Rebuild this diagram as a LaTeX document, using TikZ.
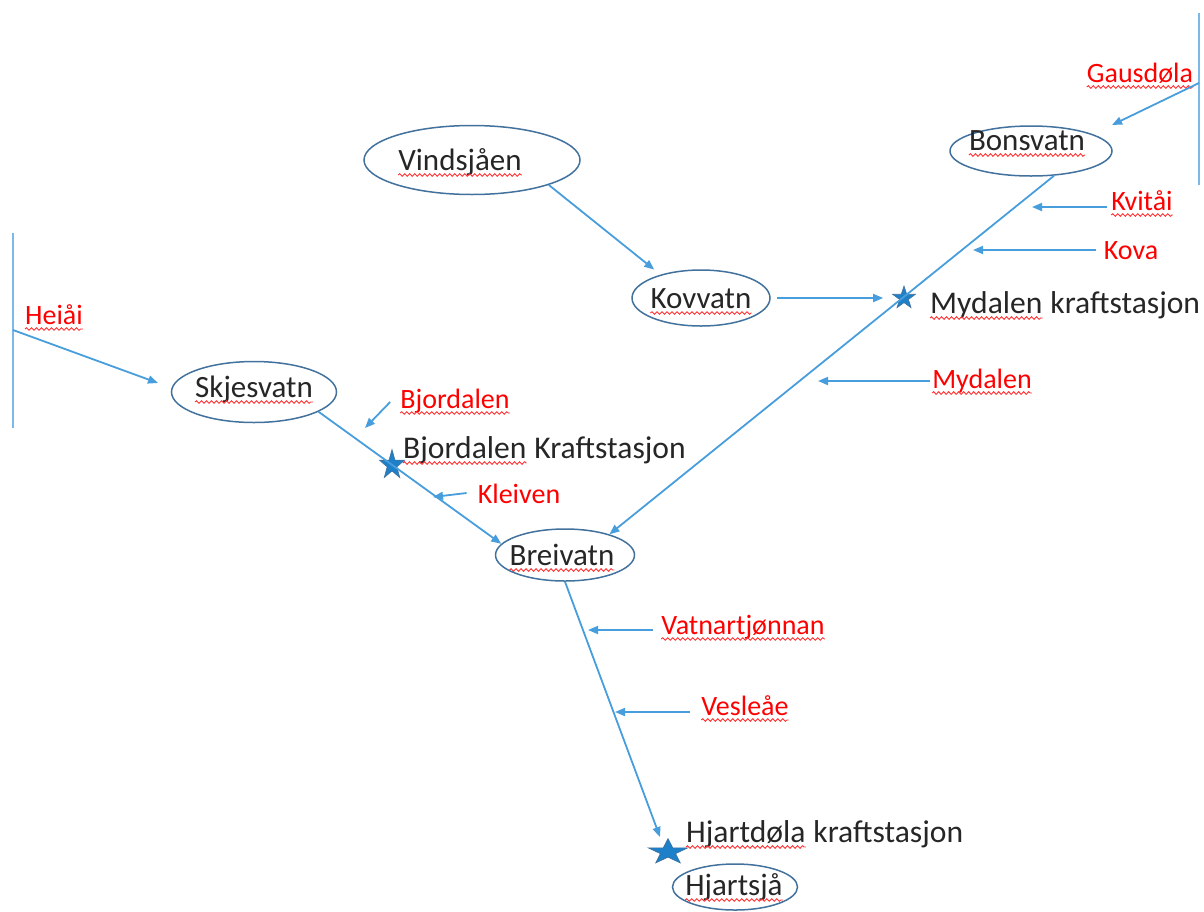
\documentclass[tikz,border=0pt]{standalone}
\usepackage{fontspec}
\setmainfont{Carlito}
\usetikzlibrary{arrows.meta,shapes.geometric,positioning,decorations.pathmorphing}

\definecolor{lakeline}{RGB}{65,113,156}
\definecolor{river}{RGB}{72,158,220}
\definecolor{sourceblue}{RGB}{125,185,232}
\definecolor{starfill}{RGB}{30,128,200}
\definecolor{textgray}{RGB}{38,38,38}

\tikzset{
  lake/.style={ellipse, draw=lakeline, line width=1.5pt, inner sep=0pt},
  lakename/.style={text=textgray, font=\fontsize{31}{37}\selectfont, inner sep=0pt, anchor=base},
  plant/.style={text=textgray, font=\fontsize{31.6}{38}\selectfont, inner sep=0pt, anchor=base west},
  trib/.style={text=red, font=\fontsize{28}{33}\selectfont, inner sep=0pt, anchor=base},
  station/.style={star, star points=5, star point ratio=2.6, fill=starfill, draw=lakeline,
    line width=0.6pt, inner sep=0pt},
  flow/.style={draw=river, line width=1.8pt, -{Triangle[length=10pt,width=8pt]}},
  srcline/.style={draw=sourceblue, line width=2.5pt},
  wave/.style={draw=red!80, line width=0.9pt, decorate,
    decoration={snake, amplitude=1.3pt, segment length=5pt}},
  % red spell-check wave under a word
  squiggly/.style={append after command={
    ([yshift=-5pt]\tikzlastnode.base west) edge[wave] ([yshift=-5pt]\tikzlastnode.base east)}}
}

\begin{document}
\begin{tikzpicture}[x=1pt, y=-1pt]
  \useasboundingbox (0,0) rectangle (1204,911);

  % lakes
  \node[lake, minimum width=216pt, minimum height=69pt] (vind) at (472,160) {};
  \node[lake, minimum width=162pt, minimum height=50pt] (bons) at (1031,151) {};
  \node[lake, minimum width=138pt, minimum height=56pt] (kov) at (701,298) {};
  \node[lake, minimum width=165pt, minimum height=61pt] (skj) at (254,392) {};
  \node[lake, minimum width=139pt, minimum height=52pt] (brei) at (565,555) {};
  \node[lake, minimum width=125pt, minimum height=46pt] (hjsj) at (735,887) {};

  \node[lakename, squiggly] (vindtxt) at (460,170) {Vindsjåen};
  \node[lakename, squiggly] (bonstxt) at (1027,150) {Bonsvatn};
  \node[lakename, squiggly] (kovtxt) at (701,308) {Kovvatn};
  \node[lakename, squiggly] (skjtxt) at (254,397) {Skjesvatn};
  \node[lakename, squiggly] (breitxt) at (562,565) {Breivatn};
  \node[lakename, squiggly] (hjsjtxt) at (734,895) {Hjartsjå};

  % power stations
  \node[station, minimum size=24pt] (myst) at (904,298) {};
  \begin{scope}[shift={(392,465)}, xscale=0.85]
    \node[station, minimum size=31pt, transform shape] (bjst) at (0,0) {};
  \end{scope}
  \begin{scope}[shift={(668,852)}, xscale=1.55]
    \node[station, minimum size=27pt, transform shape] (hjst) at (0,0) {};
  \end{scope}

  \node[plant, squiggly] (mytxt) at (930,313) {Mydalen};
  \node[plant, base right=7.5pt of mytxt] (mytxtb) {kraftstasjon};
  \node[plant, squiggly] (bjtxt) at (403,458) {Bjordalen};
  \node[plant, base right=7.5pt of bjtxt] (bjtxtb) {Kraftstasjon};
  \node[plant, squiggly] (hjtxt) at (686,842) {Hjartdøla};
  \node[plant, base right=7.5pt of hjtxt] (hjtxtb) {kraftstasjon};

  % tributaries
  \node[trib, squiggly] (gaus) at (1140,82) {Gausdøla};
  \node[trib, squiggly] (kvit) at (1142,210) {Kvitåi};
  \node[trib] (kova) at (1131,259) {Kova};
  \node[trib, squiggly] (mydl) at (982,388) {Mydalen};
  \node[trib, squiggly] (heia) at (54,324) {Heiåi};
  \node[trib, squiggly] (bjdl) at (455,408) {Bjordalen};
  \node[trib] (klei) at (519,503) {Kleiven};
  \node[trib, squiggly] (vatn) at (743,634) {Vatnartjønnan};
  \node[trib, squiggly] (vesl) at (745,715) {Vesleåe};

  \coordinate (gtop) at (1199,13);
  \coordinate (gbot) at (1199,185);
  \coordinate (gsrc) at (1199,83);
  \coordinate (htop) at (13,233);
  \coordinate (hbot) at (13,428);
  \coordinate (hsrc) at (13,330);

  \coordinate (gaustip) at (1112,125);
  \coordinate (kvittip) at (1032,207);
  \coordinate (kovatip) at (973,250);
  \coordinate (mydltip) at (818,381);
  \coordinate (heiatip) at (158,383);
  \coordinate (bjdltip) at (365,428);
  \coordinate (kleitip) at (433,497);
  \coordinate (vatntip) at (588,630);
  \coordinate (vesltip) at (615,712);
  \coordinate (hjtip) at (660,837);

  % main rivers
  \draw[flow, shorten >=8pt] (vind.-18) -- (kov.150);
  \draw[flow, shorten <=6pt, shorten >=14pt] (kov) -- (myst);
  \draw[flow] (bons.-47) -- (brei.25);
  \draw[flow] (skj.-17) -- (brei.170);
  \draw[flow] (brei.south) -- (hjtip);

  \draw[srcline] (gtop) -- (gbot);
  \draw[srcline] (htop) -- (hbot);
  \draw[flow] (gsrc) -- (gaustip);
  \draw[flow] (hsrc) -- (heiatip);

  \draw[flow] ([shift={(-4pt,3pt)}]kvit.base west) -- (kvittip);
  \draw[flow] ([shift={(-8pt,9pt)}]kova.base west) -- (kovatip);
  \draw[flow] ([shift={(-2pt,7pt)}]mydl.base west) -- (mydltip);
  \draw[flow] ([shift={(-10pt,6pt)}]bjdl.base west) -- (bjdltip);
  \draw[flow] ([shift={(-11pt,10pt)}]klei.base west) -- (kleitip);
  \draw[flow] ([shift={(-8pt,4pt)}]vatn.base west) -- (vatntip);
  \draw[flow] ([shift={(-11pt,3pt)}]vesl.base west) -- (vesltip);
\end{tikzpicture}
\end{document}
